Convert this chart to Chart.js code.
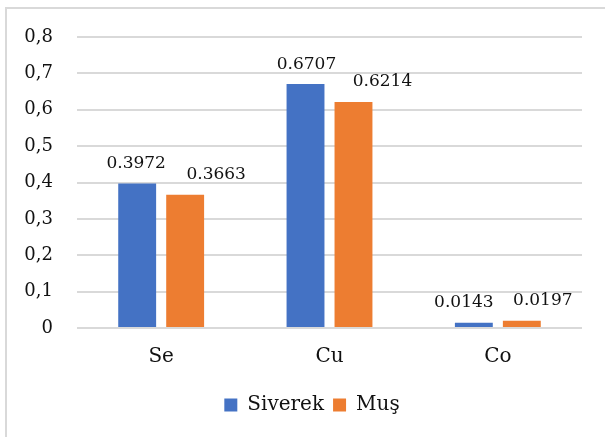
<!DOCTYPE html>
<html>
<head>
<meta charset="utf-8">
<script src="https://cdn.jsdelivr.net/npm/chart.js@4/dist/chart.umd.min.js"></script>
<style>
  html, body { margin: 0; padding: 0; background: #ffffff; }
  #wrap { width: 605px; height: 437px; position: relative; }
</style>
</head>
<body>
<div id="wrap"><canvas id="chart" width="605" height="437"></canvas></div>
<script>
// Trace element concentrations by location
const categories = ['Se', 'Cu', 'Co'];
const siverek = [0.3972, 0.6707, 0.0143];
const mus = [0.3663, 0.6214, 0.0197];
const seriesNames = ['Siverek', 'Muş'];
const yTicks = [0, 0.1, 0.2, 0.3, 0.4, 0.5, 0.6, 0.7, 0.8];

const serif = '"DejaVu Serif", "Liberation Serif", serif';

// Frame lines along the top and left edges of the chart
const framePlugin = {
  id: 'frame',
  beforeDraw(chart) {
    const ctx = chart.ctx;
    ctx.save();
    ctx.fillStyle = '#ffffff';
    ctx.fillRect(0, 0, chart.width, chart.height);
    ctx.strokeStyle = '#d9d9d9';
    ctx.lineWidth = 2;
    ctx.beginPath();
    ctx.moveTo(6, chart.height);
    ctx.lineTo(6, 8);
    ctx.lineTo(chart.width, 8);
    ctx.stroke();
    ctx.restore();
  }
};

// Value labels above each bar; labels are nudged sideways so neighbours don't collide
const valueLabels = {
  id: 'valueLabels',
  afterDatasetsDraw(chart, args, opts) {
    const ctx = chart.ctx;
    ctx.save();
    ctx.font = '17px ' + serif;
    ctx.fillStyle = '#111111';
    ctx.textAlign = 'center';
    ctx.textBaseline = 'alphabetic';
    chart.data.datasets.forEach((ds, i) => {
      const meta = chart.getDatasetMeta(i);
      const shift = opts.shift[i] || [];
      meta.data.forEach((bar, j) => {
        ctx.fillText(String(ds.data[j]), bar.x + (shift[j] || 0), bar.y - 15.5);
      });
    });
    ctx.restore();
  }
};

new Chart(document.getElementById('chart'), {
  type: 'bar',
  data: {
    labels: categories,
    datasets: [
      { label: seriesNames[0], data: siverek, backgroundColor: '#4472C4' },
      { label: seriesNames[1], data: mus, backgroundColor: '#ED7D31' }
    ]
  },
  options: {
    responsive: false,
    animation: false,
    devicePixelRatio: 1,
    layout: { padding: { left: 19, right: 0, top: 37, bottom: 12 } },
    datasets: { bar: { categoryPercentage: 0.57, barPercentage: 0.79 } },
    scales: {
      y: {
        min: 0,
        max: 0.8,
        afterFit(scale) { scale.width = 58; },
        afterBuildTicks(scale) { scale.ticks = yTicks.map(v => ({ value: v })); },
        border: { display: false },
        grid: { color: '#d9d9d9', lineWidth: 2, drawTicks: false },
        ticks: {
          padding: 24,
          color: '#111111',
          font: { family: serif, size: 18 },
          callback: v => String(+v.toFixed(1)).replace('.', ',')
        }
      },
      // empty margin on the right side of the plot
      yRight: {
        position: 'right',
        min: 0,
        max: 1,
        afterFit(scale) { scale.width = 23; },
        border: { display: false },
        grid: { display: false, drawTicks: false },
        ticks: { display: false }
      },
      x: {
        afterFit(scale) { scale.height = 58; },
        border: { display: false },
        grid: { display: false, drawTicks: false },
        ticks: {
          padding: 17,
          color: '#111111',
          font: { family: serif, size: 20 }
        }
      }
    },
    plugins: {
      legend: {
        position: 'bottom',
        labels: {
          boxWidth: 13,
          boxHeight: 13,
          padding: 9,
          color: '#111111',
          font: { family: serif, size: 20 }
        }
      },
      tooltip: { enabled: false },
      valueLabels: { shift: [[-1, 1, -10], [31, 29, 21]] }
    }
  },
  plugins: [framePlugin, valueLabels]
});
</script>
</body>
</html>
